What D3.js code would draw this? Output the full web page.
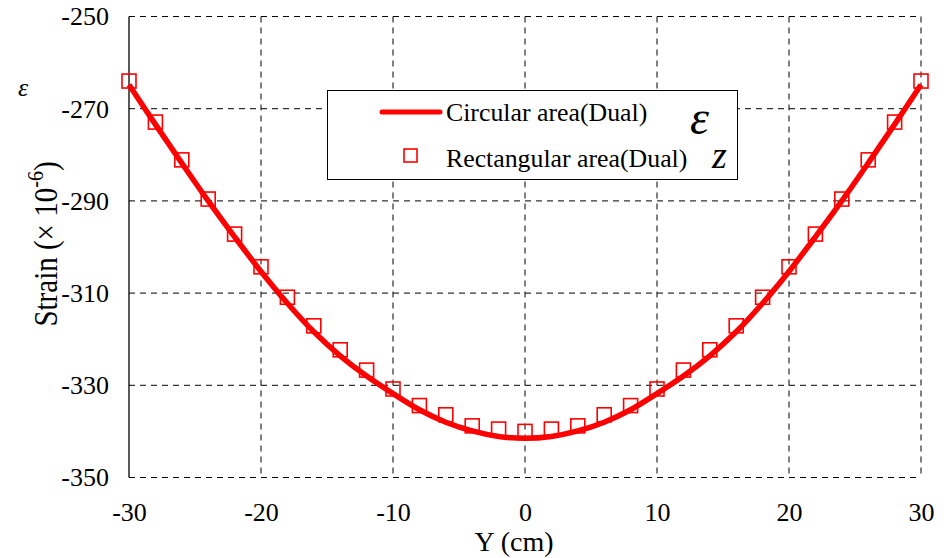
<!DOCTYPE html>
<html><head><meta charset="utf-8">
<script src="https://cdn.jsdelivr.net/npm/d3@7/dist/d3.min.js"></script>
<style>body{margin:0;background:#fff}svg{display:block}</style>
</head><body>
<svg id="c" width="952" height="558" font-family="'Liberation Serif', 'Times New Roman', 'DejaVu Serif', serif"></svg>
<script>
const FONT = "'Liberation Serif', 'Times New Roman', 'DejaVu Serif', serif";
const xTicks = [-30,-20,-10,0,10,20,30];
const yTicks = [-250,-270,-290,-310,-330,-350];
const rectY = [-30,-28,-26,-24,-22,-20,-18,-16,-14,-12,-10,-8,-6,-4,-2,0,2,4,6,8,10,12,14,16,18,20,22,24,26,28,30];
const rectStrain = [-264.0,-272.9,-281.1,-289.6,-297.2,-304.3,-310.9,-317.1,-322.3,-326.7,-330.8,-334.4,-336.4,-338.8,-339.5,-340.0,-339.5,-338.8,-336.4,-334.4,-330.8,-326.7,-322.3,-317.1,-310.9,-304.3,-297.2,-289.6,-281.1,-272.9,-264.0];
const circY = [-30,-28,-26,-24,-22,-20,-18,-16,-14,-12,-10,-8,-6,-4,-2,0,2,4,6,8,10,12,14,16,18,20,22,24,26,28,30];
const circStrain = [-264.8,-273.4,-281.8,-290.0,-297.8,-305.3,-312.2,-318.4,-323.6,-328.0,-331.8,-335.3,-338.0,-339.9,-341.1,-341.5,-341.1,-339.9,-338.0,-335.3,-331.8,-328.0,-323.6,-318.4,-312.2,-305.3,-297.8,-290.0,-281.8,-273.4,-264.8];

const svg = d3.select("#c");
const L=129, R=921, T=16.5, B=477.5;
const x = d3.scaleLinear().domain([-30,30]).range([L,R]);
const y = d3.scaleLinear().domain([-350,-250]).range([B,T]);
const fmt = d => String(d);

const g = svg.append("g");
g.selectAll("line.hg").data(yTicks.filter(v=>v!==-250 && v!==-350)).enter().append("line")
 .attr("x1",L).attr("x2",R).attr("y1",d=>y(d)).attr("y2",d=>y(d))
 .attr("stroke","#000").attr("stroke-width",1).attr("stroke-dasharray","6,5");
g.selectAll("line.vg").data(xTicks.filter(v=>v!==-30 && v!==30)).enter().append("line")
 .attr("y1",T).attr("y2",B).attr("x1",d=>x(d)).attr("x2",d=>x(d))
 .attr("stroke","#000").attr("stroke-width",1).attr("stroke-dasharray","6,5");
svg.append("line").attr("x1",L).attr("x2",R).attr("y1",T).attr("y2",T).attr("stroke","#000").attr("stroke-dasharray","6,5");
svg.append("line").attr("x1",L).attr("x2",R).attr("y1",B).attr("y2",B).attr("stroke","#000").attr("stroke-dasharray","6,5");
svg.append("line").attr("x1",R).attr("x2",R).attr("y1",T).attr("y2",B).attr("stroke","#000").attr("stroke-dasharray","6,5");
svg.append("line").attr("x1",L).attr("x2",L).attr("y1",T).attr("y2",B).attr("stroke","#000").attr("stroke-width",1.3);

const xa = svg.append("g").attr("transform",`translate(0,${B})`).call(d3.axisBottom(x).tickValues(xTicks).tickSize(0).tickPadding(25).tickFormat(fmt));
xa.attr("font-family",FONT).attr("font-size",26);
xa.select(".domain").remove();
xa.selectAll("text").attr("fill","#000");
const ya = svg.append("g").attr("transform",`translate(${L},0)`).call(d3.axisLeft(y).tickValues(yTicks).tickSize(0).tickPadding(20).tickFormat(fmt));
ya.attr("font-family",FONT).attr("font-size",26);
ya.select(".domain").remove();
ya.selectAll("text").attr("fill","#000");

const line = d3.line().x((d,i)=>x(circY[i])).y(d=>y(d)).curve(d3.curveCatmullRom);
svg.append("path").datum(circStrain).attr("d",line).attr("fill","none").attr("stroke","#ff0000").attr("stroke-width",5.5);

const s=14;
svg.selectAll("rect.m").data(rectStrain).enter().append("rect")
 .attr("x",(d,i)=>x(rectY[i])-s/2).attr("y",d=>y(d)-s/2).attr("width",s).attr("height",s)
 .attr("fill","none").attr("stroke","#ff0000").attr("stroke-width",1.6);

svg.append("rect").attr("x",327.5).attr("y",90.5).attr("width",410).attr("height",89).attr("fill","#fff").attr("stroke","#000").attr("stroke-width",1);
svg.append("line").attr("x1",382).attr("x2",440).attr("y1",112).attr("y2",112).attr("stroke","#ff0000").attr("stroke-width",5).attr("stroke-linecap","round");
svg.append("text").attr("x",446).attr("y",121).attr("font-size",25.8).text("Circular area(Dual)");
svg.append("rect").attr("x",404).attr("y",149).attr("width",13).attr("height",13).attr("fill","none").attr("stroke","#ff0000").attr("stroke-width",1.6);
svg.append("text").attr("x",446).attr("y",167).attr("font-size",25.8).text("Rectangular area(Dual)");
svg.append("text").attr("x",690).attr("y",134).attr("font-size",48).attr("font-style","italic").text("ε");
svg.append("text").attr("x",712).attr("y",168).attr("font-size",38).attr("font-style","italic").text("z");

const yt = svg.append("text").attr("transform","translate(57,244) rotate(-90) scale(1,1.15)").attr("text-anchor","middle").attr("font-size",29);
yt.append("tspan").text("Strain (× 10");
yt.append("tspan").attr("font-size",20).attr("dy",-12).text("-6");
yt.append("tspan").attr("dy",12).text(")");
svg.append("text").attr("x",23).attr("y",96).attr("font-size",26).attr("font-style","italic").attr("text-anchor","middle").text("ε");
svg.append("text").attr("x",514).attr("y",551).attr("text-anchor","middle").attr("font-size",28).text("Y (cm)");
</script>
</body></html>
